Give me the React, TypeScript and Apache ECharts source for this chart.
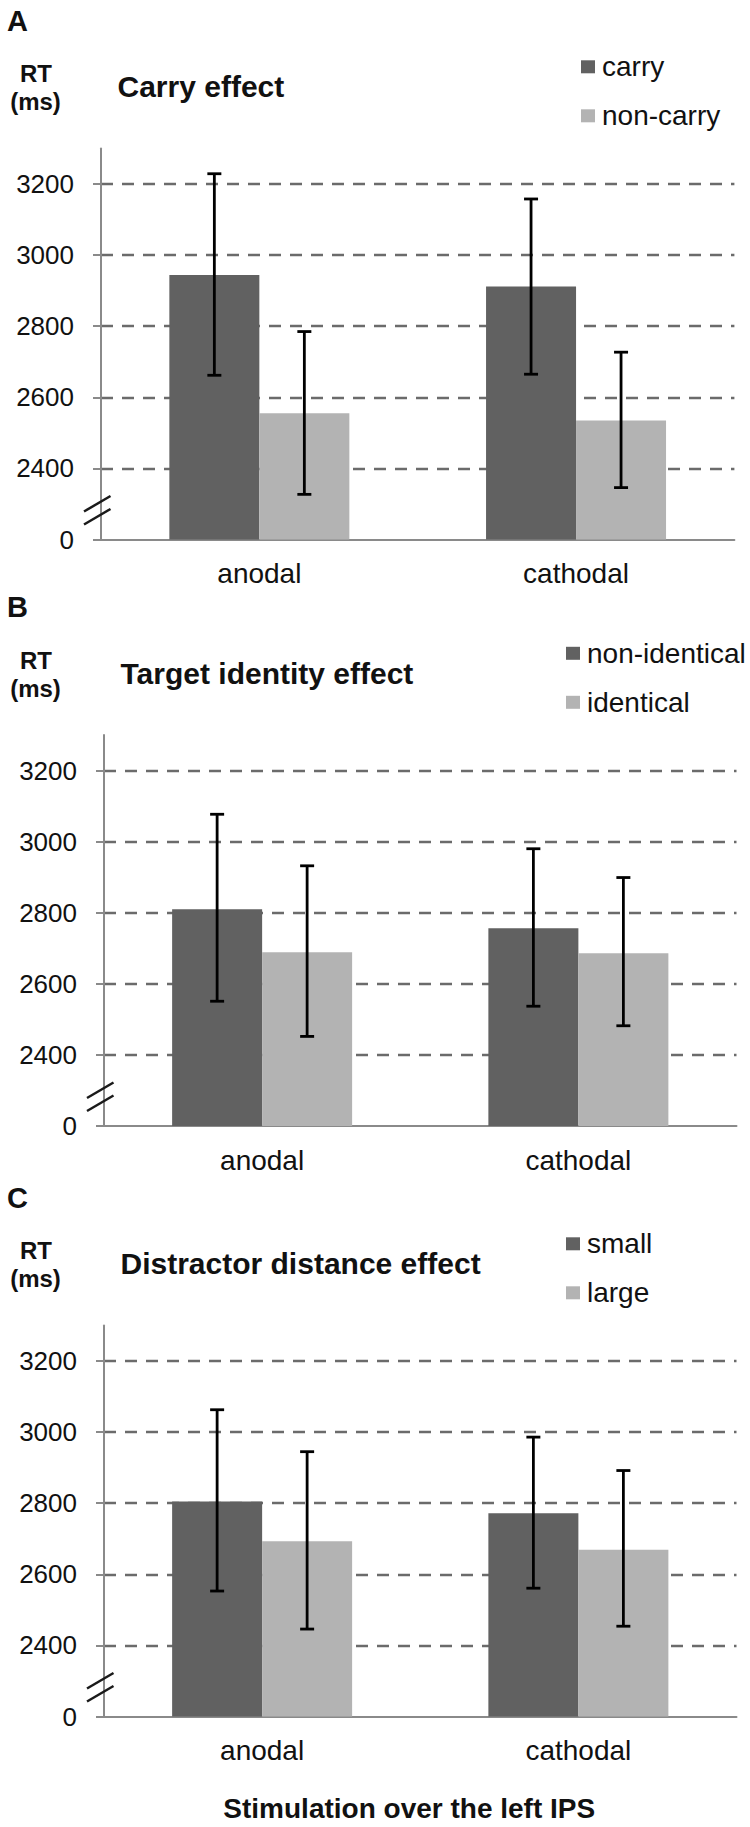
import React, { useEffect, useRef } from "react";
import * as echarts from "echarts";

// ---- data ----
const categories = ["anodal", "cathodal"];
const yTickValues = [2200, 2400, 2600, 2800, 3000, 3200];

// Panel A: carry effect
const carryMean = [2944, 2912];
const carryLow = [2662, 2665];
const carryHigh = [3229, 3158];
const nonCarryMean = [2555, 2535];
const nonCarryLow = [2327, 2346];
const nonCarryHigh = [2785, 2727];

// Panel B: target identity effect
const nonIdenticalMean = [2810, 2756];
const nonIdenticalLow = [2551, 2537];
const nonIdenticalHigh = [3077, 2980];
const identicalMean = [2689, 2686];
const identicalLow = [2452, 2482];
const identicalHigh = [2932, 2899];

// Panel C: distractor distance effect
const smallMean = [2805, 2772];
const smallLow = [2553, 2561];
const smallHigh = [3063, 2986];
const largeMean = [2693, 2669];
const largeLow = [2446, 2454];
const largeHigh = [2945, 2892];

const panelLetters = ["A", "B", "C"];
const panelTitles = ["Carry effect", "Target identity effect", "Distractor distance effect"];
const seriesNames = [
  ["carry", "non-carry"],
  ["non-identical", "identical"],
  ["small", "large"],
];
const xAxisTitle = "Stimulation over the left IPS";

const panelData = [
  [
    { mean: carryMean, low: carryLow, high: carryHigh },
    { mean: nonCarryMean, low: nonCarryLow, high: nonCarryHigh },
  ],
  [
    { mean: nonIdenticalMean, low: nonIdenticalLow, high: nonIdenticalHigh },
    { mean: identicalMean, low: identicalLow, high: identicalHigh },
  ],
  [
    { mean: smallMean, low: smallLow, high: smallHigh },
    { mean: largeMean, low: largeLow, high: largeHigh },
  ],
];

// ---- layout / style ----
const FONT = '"Liberation Sans", Arial, Helvetica, sans-serif';
const BAR_COLORS = ["#616161", "#b3b3b3"];
const AXIS_COLOR = "#8a8a8a";
const GRID_COLOR = "#6b6b6b";
const gridTops = [148.5, 735, 1325.5];
const gridLefts = [101, 104, 104];
const gridWidths = [633.4, 632.5, 632.5];
const GRID_H = 391;
const legendLefts = [581, 566, 566];
const BAR_W = 90;

export default function App() {
  const ref = useRef<HTMLDivElement>(null);

  useEffect(() => {
    if (!ref.current) return;
    const chart = echarts.init(ref.current, undefined, { renderer: "svg" });

    const grids: any[] = [];
    const xAxes: any[] = [];
    const yAxes: any[] = [];
    const legends: any[] = [];
    const series: any[] = [];
    const graphics: any[] = [];

    for (let i = 0; i < 3; i++) {
      const top = gridTops[i];
      const left = gridLefts[i];
      grids.push({ left, top, width: gridWidths[i], height: GRID_H });

      xAxes.push({
        gridIndex: i,
        type: "category",
        data: categories,
        axisLine: { onZero: false, lineStyle: { color: AXIS_COLOR, width: 2 } },
        axisTick: { show: false },
        axisLabel: { fontSize: 28, color: "#111", margin: 20, fontFamily: FONT },
        splitLine: { show: false },
        ...(i === 2
          ? {
              name: xAxisTitle,
              nameLocation: "middle",
              nameGap: 78,
              nameTextStyle: {
                fontSize: 28,
                fontWeight: "bold",
                color: "#111",
                fontFamily: FONT,
                padding: [0, 22, 0, 0],
              },
            }
          : {}),
      });

      yAxes.push({
        gridIndex: i,
        type: "value",
        min: 2200,
        max: 3300,
        interval: 200,
        axisLine: { show: true, lineStyle: { color: AXIS_COLOR, width: 2 } },
        axisTick: {
          show: true,
          inside: false,
          length: 8,
          customValues: yTickValues,
          lineStyle: { color: AXIS_COLOR, width: 2 },
        },
        axisLabel: {
          customValues: yTickValues,
          formatter: (v: number) => (v === 2200 ? "0" : String(v)),
          fontSize: 26,
          color: "#111",
          margin: 27,
          fontFamily: FONT,
        },
        splitLine: {
          show: true,
          showMinLine: false,
          showMaxLine: true,
          lineStyle: { type: [12, 9], color: GRID_COLOR, width: 2.4 },
        },
      });

      legends.push({
        data: seriesNames[i],
        orient: "vertical",
        left: legendLefts[i],
        top: top - 95.7,
        padding: 0,
        itemWidth: 14,
        itemHeight: 13,
        itemGap: 21,
        icon: "rect",
        selectedMode: false,
        textStyle: { fontSize: 28, lineHeight: 28, color: "#111", fontFamily: FONT, padding: [0, 0, 0, 2] },
      });

      for (let s = 0; s < 2; s++) {
        const d = panelData[i][s];
        series.push({
          type: "bar",
          name: seriesNames[i][s],
          xAxisIndex: i,
          yAxisIndex: i,
          data: d.mean,
          barWidth: BAR_W,
          barGap: "0%",
          itemStyle: { color: BAR_COLORS[s] },
          z: 2,
        });
      }
      for (let s = 0; s < 2; s++) {
        const d = panelData[i][s];
        const offset = s === 0 ? -BAR_W / 2 : BAR_W / 2;
        series.push({
          type: "custom",
          name: "err-" + seriesNames[i][s],
          xAxisIndex: i,
          yAxisIndex: i,
          z: 5,
          silent: true,
          encode: { x: 0, y: [1, 2] },
          data: categories.map((_, k) => [k, d.low[k], d.high[k]]),
          renderItem: (params: any, api: any) => {
            const idx = api.value(0);
            const lo = api.coord([idx, api.value(1)]);
            const hi = api.coord([idx, api.value(2)]);
            const x = lo[0] + offset;
            const style = { stroke: "#000", lineWidth: 2.8 };
            return {
              type: "group",
              children: [
                { type: "line", shape: { x1: x, y1: lo[1], x2: x, y2: hi[1] }, style },
                { type: "line", shape: { x1: x - 7, y1: lo[1], x2: x + 7, y2: lo[1] }, style },
                { type: "line", shape: { x1: x - 7, y1: hi[1], x2: x + 7, y2: hi[1] }, style },
              ],
            };
          },
        });
      }

      const yb = top + GRID_H;
      graphics.push(
        {
          type: "text",
          left: 7,
          top: top - 128.5 - 14,
          style: { text: panelLetters[i], font: `bold 29px ${FONT}`, fill: "#111" },
        },
        {
          type: "text",
          x: 36,
          y: top - 75,
          style: { text: "RT", font: `bold 24px ${FONT}`, fill: "#111", align: "center", verticalAlign: "middle" },
        },
        {
          type: "text",
          x: 35.5,
          y: top - 47,
          style: { text: "(ms)", font: `bold 24px ${FONT}`, fill: "#111", align: "center", verticalAlign: "middle" },
        },
        {
          type: "text",
          x: left + 16.5,
          y: top - 61.7,
          style: { text: panelTitles[i], font: `bold 30px ${FONT}`, fill: "#111", align: "left", verticalAlign: "middle" },
        },
        {
          type: "line",
          shape: { x1: left - 17, y1: yb - 28, x2: left + 9.5, y2: yb - 43.5 },
          style: { stroke: "#1a1a1a", lineWidth: 2.5 },
          z: 10,
        },
        {
          type: "line",
          shape: { x1: left - 17, y1: yb - 15, x2: left + 9.5, y2: yb - 30.5 },
          style: { stroke: "#1a1a1a", lineWidth: 2.5 },
          z: 10,
        }
      );
    }

    chart.setOption({
      animation: false,
      backgroundColor: "#ffffff",
      textStyle: { fontFamily: FONT },
      grid: grids,
      xAxis: xAxes,
      yAxis: yAxes,
      legend: legends,
      series,
      graphic: graphics,
    });

    return () => chart.dispose();
  }, []);

  return (
    <div
      ref={ref}
      style={{ position: "absolute", left: 0, top: 0, width: 750, height: 1827, background: "#fff" }}
    />
  );
}
